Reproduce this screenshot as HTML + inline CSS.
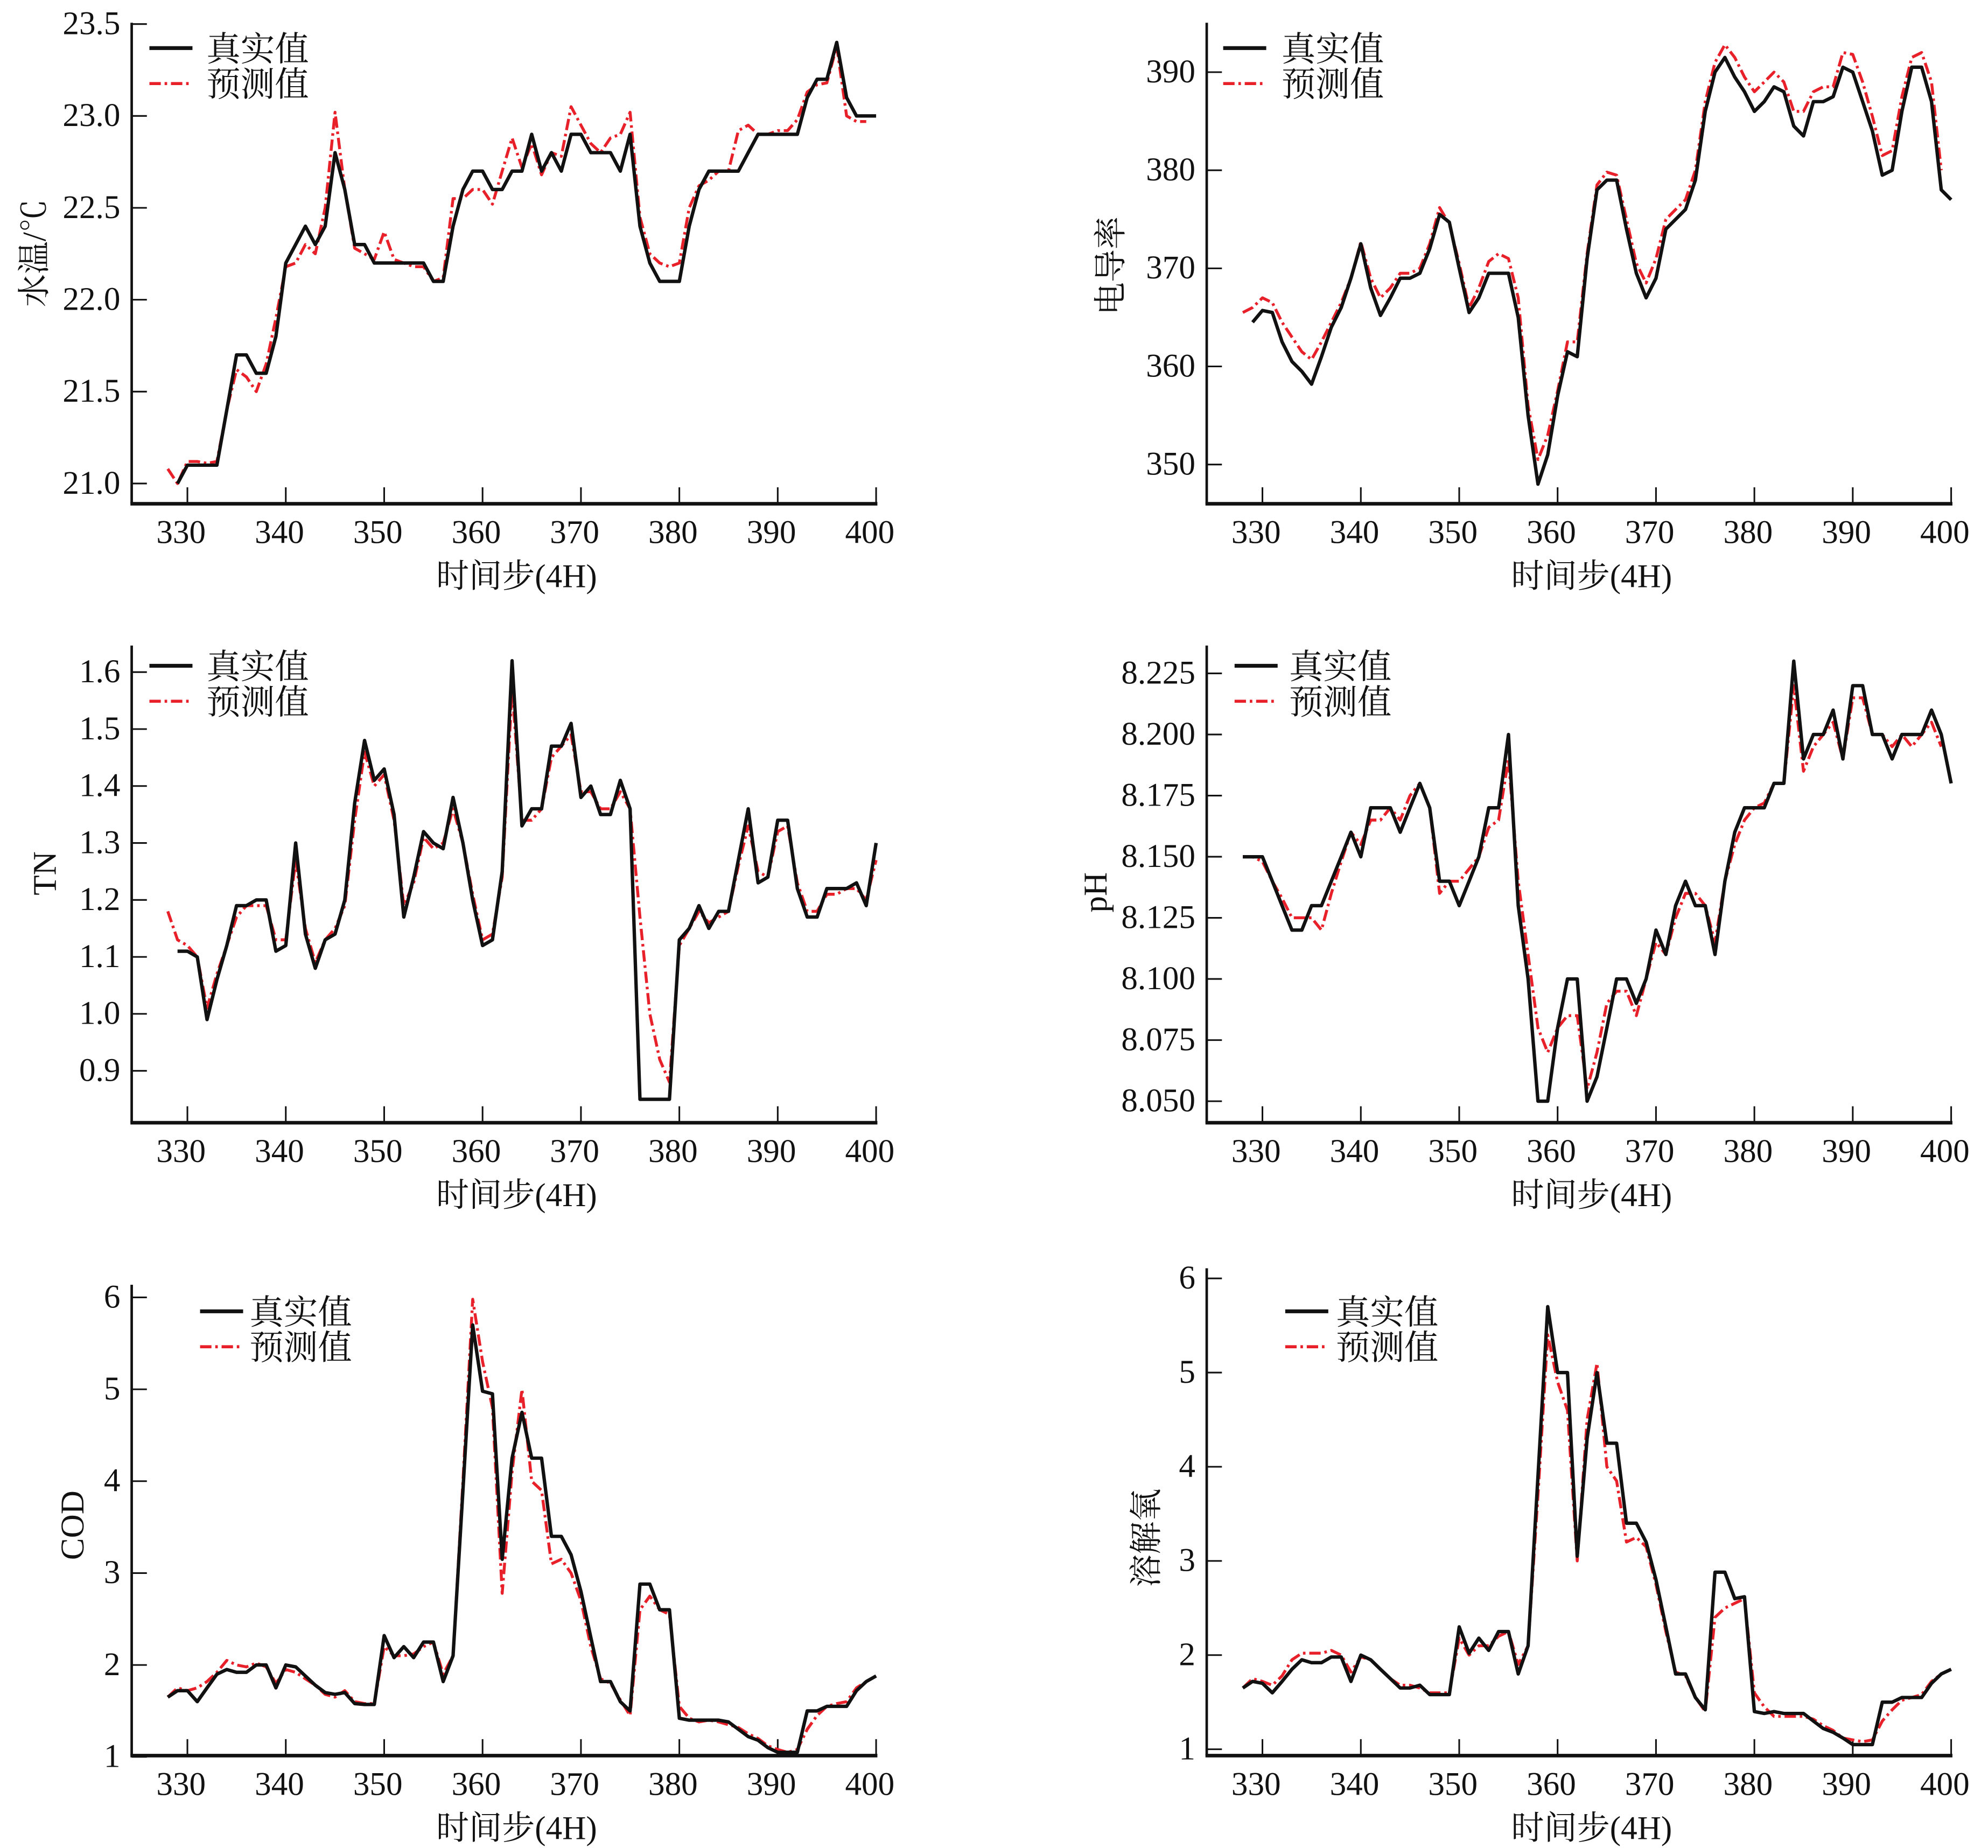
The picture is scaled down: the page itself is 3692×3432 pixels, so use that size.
<!DOCTYPE html>
<html><head><meta charset="utf-8"><style>
html,body{margin:0;padding:0;background:#fff;}
svg{display:block;}
</style></head><body>
<svg id="chart" xmlns="http://www.w3.org/2000/svg" width="3692" height="3432" viewBox="0 0 1570 1460" preserveAspectRatio="none"></svg>
<script>
const steps = []; for (let s = 328; s <= 400; s++) steps.push(s);
const xTicks = [330,340,350,360,370,380,390,400];
const legendLabels = ["真实值","预测值"];
const xTitle = "时间步(4H)";

const wtTrue = [null,21.0,21.1,21.1,21.1,21.1,21.4,21.7,21.7,21.6,21.6,21.8,22.2,22.3,22.4,22.3,22.4,22.8,22.6,22.3,22.3,22.2,22.2,22.2,22.2,22.2,22.2,22.1,22.1,22.4,22.6,22.7,22.7,22.6,22.6,22.7,22.7,22.9,22.7,22.8,22.7,22.9,22.9,22.8,22.8,22.8,22.7,22.9,22.4,22.2,22.1,22.1,22.1,22.4,22.6,22.7,22.7,22.7,22.7,22.8,22.9,22.9,22.9,22.9,22.9,23.1,23.2,23.2,23.4,23.1,23.0,23.0,23.0];
const wtPred = [21.08,21.0,21.12,21.12,21.11,21.12,21.4,21.62,21.58,21.5,21.65,21.9,22.18,22.2,22.3,22.25,22.5,23.02,22.6,22.28,22.25,22.22,22.37,22.22,22.2,22.18,22.18,22.1,22.12,22.55,22.55,22.6,22.6,22.52,22.7,22.88,22.72,22.85,22.68,22.8,22.78,23.05,22.95,22.85,22.8,22.88,22.9,23.02,22.45,22.25,22.2,22.18,22.2,22.5,22.62,22.65,22.7,22.7,22.92,22.95,22.9,22.9,22.92,22.92,22.98,23.13,23.17,23.18,23.38,23.0,22.97,22.97,null];
const wtTicks = [21.0,21.5,22.0,22.5,23.0,23.5];

const ecTrue = [null,364.5,365.7,365.5,362.5,360.5,359.5,358.2,361,364,366,369,372.5,368,365.2,367,369,369,369.5,372,375.5,374.7,370,365.5,367,369.5,369.5,369.5,365,355,348,351,357,361.5,361,371,378,379,379,374,369.5,367,369,374,375,376,379,386,390,391.5,389.5,388,386,387,388.5,388,384.5,383.5,387,387,387.5,390.5,390,387,384,379.5,380,386,390.5,390.5,387,378,377];
const ecPred = [365.5,366,367,366.5,364.5,363,361.5,360.7,362.5,364.5,366.5,369,372.7,369,367,368,369.5,369.5,370,372.5,376.2,374.5,370.5,366,368,370.7,371.5,371,367,356,350.5,353,357.5,362.5,362.5,371.5,378.5,379.8,379.5,375,370.5,368.5,371,375,376,377,380,387,391,392.8,391.5,389.5,388,389,390,389,386,386,388,388.5,388.5,392,391.8,389,385.5,381.5,382,387.5,391.5,392,389,380,null];
const ecTicks = [350,360,370,380,390];

const tnTrue = [null,1.11,1.11,1.10,0.99,1.06,1.12,1.19,1.19,1.20,1.20,1.11,1.12,1.30,1.14,1.08,1.13,1.14,1.20,1.37,1.48,1.41,1.43,1.35,1.17,1.24,1.32,1.30,1.29,1.38,1.30,1.20,1.12,1.13,1.25,1.62,1.33,1.36,1.36,1.47,1.47,1.51,1.38,1.40,1.35,1.35,1.41,1.36,0.85,0.85,0.85,0.85,1.13,1.15,1.19,1.15,1.18,1.18,1.27,1.36,1.23,1.24,1.34,1.34,1.22,1.17,1.17,1.22,1.22,1.22,1.23,1.19,1.30];
const tnPred = [1.18,1.13,1.12,1.10,1.01,1.07,1.12,1.17,1.19,1.19,1.19,1.13,1.13,1.27,1.15,1.09,1.13,1.15,1.19,1.34,1.46,1.40,1.42,1.34,1.19,1.23,1.31,1.29,1.30,1.36,1.30,1.21,1.13,1.14,1.24,1.57,1.34,1.34,1.36,1.45,1.47,1.49,1.39,1.39,1.36,1.36,1.39,1.36,1.17,1.00,0.92,0.88,1.12,1.15,1.18,1.16,1.17,1.18,1.26,1.33,1.25,1.24,1.32,1.33,1.23,1.18,1.18,1.21,1.21,1.22,1.22,1.20,1.27];
const tnTicks = [0.9,1.0,1.1,1.2,1.3,1.4,1.5,1.6];

const phTrue = [8.15,8.15,8.15,8.14,8.13,8.12,8.12,8.13,8.13,8.14,8.15,8.16,8.15,8.17,8.17,8.17,8.16,8.17,8.18,8.17,8.14,8.14,8.13,8.14,8.15,8.17,8.17,8.20,8.13,8.10,8.05,8.05,8.08,8.10,8.10,8.05,8.06,8.08,8.10,8.10,8.09,8.10,8.12,8.11,8.13,8.14,8.13,8.13,8.11,8.14,8.16,8.17,8.17,8.17,8.18,8.18,8.23,8.19,8.20,8.20,8.21,8.19,8.22,8.22,8.20,8.20,8.19,8.20,8.20,8.20,8.21,8.20,8.18];
const phPred = [8.15,8.15,8.148,8.14,8.133,8.125,8.125,8.125,8.12,8.135,8.148,8.16,8.155,8.165,8.165,8.17,8.165,8.175,8.18,8.17,8.135,8.14,8.14,8.145,8.15,8.162,8.165,8.19,8.14,8.11,8.08,8.07,8.08,8.085,8.085,8.055,8.07,8.09,8.095,8.095,8.085,8.10,8.115,8.11,8.125,8.135,8.135,8.13,8.115,8.14,8.155,8.165,8.17,8.172,8.18,8.18,8.22,8.185,8.195,8.20,8.205,8.19,8.215,8.215,8.20,8.20,8.195,8.20,8.195,8.20,8.205,8.195,null];
const phTicks = [8.050,8.075,8.100,8.125,8.150,8.175,8.200,8.225];

const codTrue = [1.65,1.72,1.72,1.6,1.75,1.9,1.95,1.92,1.92,2.0,2.0,1.75,2.0,1.98,1.88,1.78,1.7,1.68,1.7,1.58,1.57,1.57,2.32,2.08,2.2,2.08,2.25,2.25,1.82,2.1,3.9,5.7,4.98,4.95,3.15,4.25,4.75,4.25,4.25,3.4,3.4,3.2,2.8,2.3,1.82,1.82,1.6,1.5,2.88,2.88,2.6,2.6,1.42,1.4,1.4,1.4,1.4,1.38,1.3,1.22,1.18,1.1,1.05,1.05,1.05,1.5,1.5,1.55,1.55,1.55,1.72,1.82,1.88];
const codPred = [1.65,1.75,1.72,1.75,1.82,1.92,2.05,2.0,1.98,2.02,1.98,1.8,1.95,1.92,1.85,1.78,1.68,1.65,1.72,1.6,1.58,1.58,2.2,2.1,2.1,2.12,2.2,2.25,1.9,2.1,4.0,5.98,5.3,4.8,2.78,4.1,5.0,4.0,3.9,3.1,3.15,3.0,2.7,2.2,1.85,1.8,1.62,1.45,2.6,2.75,2.6,2.55,1.55,1.42,1.38,1.4,1.38,1.35,1.32,1.25,1.2,1.12,1.08,1.05,1.08,1.3,1.45,1.55,1.58,1.6,1.75,1.82,1.88];
const codTicks = [1,2,3,4,5,6];

const doTrue = [1.65,1.72,1.7,1.6,1.72,1.85,1.95,1.92,1.92,1.98,1.98,1.72,2.0,1.95,1.85,1.75,1.65,1.65,1.68,1.58,1.58,1.58,2.3,2.02,2.18,2.05,2.25,2.25,1.8,2.1,3.9,5.7,5.0,5.0,3.05,4.3,5.0,4.25,4.25,3.4,3.4,3.2,2.8,2.3,1.8,1.8,1.55,1.42,2.88,2.88,2.6,2.62,1.4,1.38,1.4,1.38,1.38,1.38,1.3,1.22,1.18,1.12,1.05,1.05,1.05,1.5,1.5,1.55,1.55,1.55,1.7,1.8,1.85];
const doPred = [1.65,1.75,1.72,1.68,1.78,1.95,2.02,2.02,2.02,2.05,2.0,1.82,1.98,1.95,1.85,1.75,1.68,1.68,1.65,1.6,1.6,1.6,2.18,2.0,2.1,2.1,2.2,2.25,1.9,2.1,3.7,5.4,4.9,4.6,3.0,4.5,5.1,4.0,3.85,3.2,3.25,3.15,2.75,2.25,1.82,1.78,1.55,1.4,2.4,2.5,2.55,2.6,1.6,1.45,1.35,1.35,1.35,1.35,1.32,1.25,1.2,1.12,1.1,1.08,1.1,1.3,1.42,1.52,1.55,1.58,1.72,1.8,1.85];
const doTicks = [1,2,3,4,5,6];

const panels = [
 {name:"water-temp", title:"水温/℃", t:wtTrue, p:wtPred, ticks:wtTicks, dec:1, ax:104, bottom:398, top:18, xl:148, yv0:21.0, yp0:382, yv1:23.5, yp1:19, ylx:30, yly:200, lgx:118, lgtx:163, lgy:38},
 {name:"conductivity", title:"电导率", t:ecTrue, p:ecPred, ticks:ecTicks, dec:0, ax:953, bottom:398, top:18, xl:997, yv0:350, yp0:367, yv1:390, yp1:57, ylx:880, yly:210, lgx:966, lgtx:1012, lgy:38},
 {name:"tn", title:"TN", t:tnTrue, p:tnPred, ticks:tnTicks, dec:1, ax:104, bottom:887, top:510, xl:148, yv0:0.9, yp0:846, yv1:1.6, yp1:531, ylx:38, yly:690, lgx:118, lgtx:163, lgy:526},
 {name:"ph", title:"pH", t:phTrue, p:phPred, ticks:phTicks, dec:3, ax:953, bottom:887, top:510, xl:997, yv0:8.05, yp0:870, yv1:8.225, yp1:532, ylx:868, yly:705, lgx:975, lgtx:1018, lgy:526},
 {name:"cod", title:"COD", t:codTrue, p:codPred, ticks:codTicks, dec:0, ax:104, bottom:1387, top:1015, xl:148, yv0:1, yp0:1388, yv1:6, yp1:1025, ylx:60, yly:1205, lgx:158, lgtx:197, lgy:1036},
 {name:"dissolved-oxygen", title:"溶解氧", t:doTrue, p:doPred, ticks:doTicks, dec:0, ax:953, bottom:1387, top:1002, xl:997, yv0:1, yp0:1382, yv1:6, yp1:1010, ylx:908, yly:1215, lgx:1015, lgtx:1055, lgy:1036}
];

const NS = "http://www.w3.org/2000/svg";
const svg = document.getElementById('chart');
const NUMF = '"Liberation Serif", serif';
const CJKF = '"Liberation Serif", "Noto Serif CJK SC", serif';
function mk(tag, attrs, parent){ const e=document.createElementNS(NS,tag); for(const k in attrs) e.setAttribute(k, attrs[k]); parent.appendChild(e); return e; }

panels.forEach(P => {
  const g = mk('g', {}, svg);
  
  
  const xs = v => P.xl + (v - 330) * 7.77;
  const ys = v => P.yp0 + (v - P.yv0) * (P.yp1 - P.yp0) / (P.yv1 - P.yv0);
  const right = xs(400);
  const yAxis = mk('line', {x1:P.ax, y1:P.top, x2:P.ax, y2:P.bottom, stroke:'#111', 'stroke-width':2}, g);
  
  
  const xAxis = mk('line', {x1:P.ax-1, y1:P.bottom, x2:right+1, y2:P.bottom, stroke:'#111', 'stroke-width':2.8}, g);
  
  
  xTicks.forEach(v => {
    mk('line', {x1:xs(v), y1:P.bottom, x2:xs(v), y2:P.bottom-13, stroke:'#111', 'stroke-width':1.3}, g);
    const t = mk('text', {x:xs(v)-5, y:P.bottom+31, 'text-anchor':'middle', 'font-family':NUMF, 'font-size':26, fill:'#111'}, g);
    t.textContent = v;
    
    
  });
  P.ticks.forEach(v => {
    mk('line', {x1:P.ax, y1:ys(v), x2:P.ax+12, y2:ys(v), stroke:'#111', 'stroke-width':1.3}, g);
    const t = mk('text', {x:P.ax-9, y:ys(v)+8, 'text-anchor':'end', 'font-family':NUMF, 'font-size':26, fill:'#111'}, g);
    t.textContent = v.toFixed(P.dec);
    
    
  });
  const xt = mk('text', {x:(P.ax+right)/2 + 10, y:P.bottom+66, 'text-anchor':'middle', 'font-family':CJKF, 'font-size':26, fill:'#111'}, g);
  xt.textContent = xTitle;
  
  
  const yt = mk('text', {x:P.ylx, y:P.yly, 'text-anchor':'middle', 'font-family':CJKF, 'font-size':26, fill:'#111', transform:`rotate(-90 ${P.ylx} ${P.yly})`, 'dominant-baseline':'middle'}, g);
  yt.textContent = P.title;
  
  
  function path(arr){ let d=''; let pen=false; arr.forEach((v,i)=>{ if(v===null){pen=false;return;} d += (pen?'L':'M') + xs(steps[i]).toFixed(1) + ' ' + ys(v).toFixed(1) + ' '; pen=true; }); return d; }
  const pl = mk('path', {d:path(P.p), fill:'none', stroke:'#e8202a', 'stroke-width':2.3, 'stroke-dasharray':'9,3,2,3', 'stroke-linejoin':'round'}, g);
  
  
  const tl = mk('path', {d:path(P.t), fill:'none', stroke:'#111', 'stroke-width':2.7, 'stroke-linejoin':'round'}, g);
  
  
  const lg = mk('g', {}, g);
  
  
  mk('line', {x1:P.lgx, y1:P.lgy, x2:P.lgx+34, y2:P.lgy, stroke:'#111', 'stroke-width':3}, lg);
  mk('line', {x1:P.lgx, y1:P.lgy+28, x2:P.lgx+34, y2:P.lgy+28, stroke:'#e8202a', 'stroke-width':2.4, 'stroke-dasharray':'9,3,2,3'}, lg);
  legendLabels.forEach((lab,i) => {
    const t = mk('text', {x:P.lgtx, y:P.lgy + i*28 + 10, 'font-family':CJKF, 'font-size':27, fill:'#111'}, lg);
    t.textContent = lab;
    
    
  });
});
</script>
</body></html>
